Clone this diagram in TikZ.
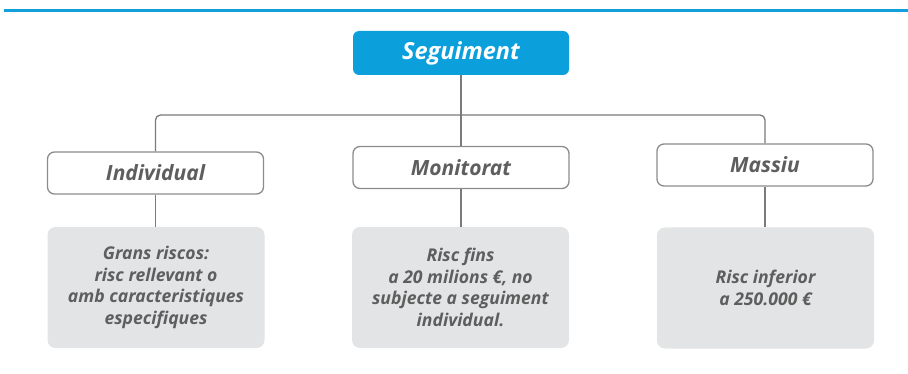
\documentclass[tikz,border=0pt]{standalone}
\usepackage{fontspec}
\newfontfamily\dfont{Open Sans}
\definecolor{topblue}{HTML}{12A0DC}
\definecolor{segblue}{HTML}{0BA0DC}
\definecolor{linegray}{HTML}{7A7A7A}
\definecolor{bordergray}{HTML}{8C8C8C}
\definecolor{textgray}{HTML}{5E5E5E}
\definecolor{fillgray}{HTML}{E3E4E5}
\tikzset{
  headbox/.style={fill=segblue, rounded corners=6pt, minimum width=216pt, minimum height=44pt,
    inner sep=0pt, text=white, font=\dfont\bfseries\itshape\fontsize{23.5}{26}\selectfont},
  catbox/.style={draw=bordergray, line width=1.3pt, fill=white, rounded corners=7pt,
    minimum width=216pt, minimum height=42pt, inner sep=0pt, text=textgray,
    font=\dfont\bfseries\itshape\fontsize{21}{24}\selectfont},
  descbox/.style={fill=fillgray, rounded corners=8pt, minimum width=217pt, minimum height=121pt,
    inner sep=0pt, align=center, text=textgray,
    font=\dfont\bfseries\itshape\fontsize{17.6}{21.5}\selectfont},
  conn/.style={draw=linegray, line width=1.3pt},
}
\begin{document}
\begin{tikzpicture}[x=1pt,y=-1pt]
\useasboundingbox (0,0) rectangle (908,374);
\draw[topblue, line width=3pt] (4,11) -- (908,11);
\node[headbox] (seg) at (461,53) {\raisebox{-2pt}{Seguiment}};
\node[catbox] (ind) at (155.5,173) {Individual};
\node[catbox] (mon) at (461,167.5) {Monitorat};
\node[catbox] (mas) at (765,165) {Massiu};
\node[descbox] (dind) at (156,287.5) {Grans riscos:\\risc rellevant o\\amb caracteristiques\\especifiques};
\node[descbox] (dmon) at (460.5,287.5) {Risc fins\\a 20 milions €, no\\subjecte a seguiment\\individual.};
\node[descbox] (dmas) at (765.5,288) {Risc inferior\\a 250.000 €};
\coordinate (bar) at (461,115);
\draw[conn] (seg.south) -- (mon.north);
\draw[conn, rounded corners=5pt] (ind.north) |- (bar) -| (mas.north);
\draw[conn] (ind.south) -- (ind.south |- dind.north);
\draw[conn] (mon.south) -- (mon.south |- dmon.north);
\draw[conn] (mas.south) -- (mas.south |- dmas.north);
\end{tikzpicture}
\end{document}
